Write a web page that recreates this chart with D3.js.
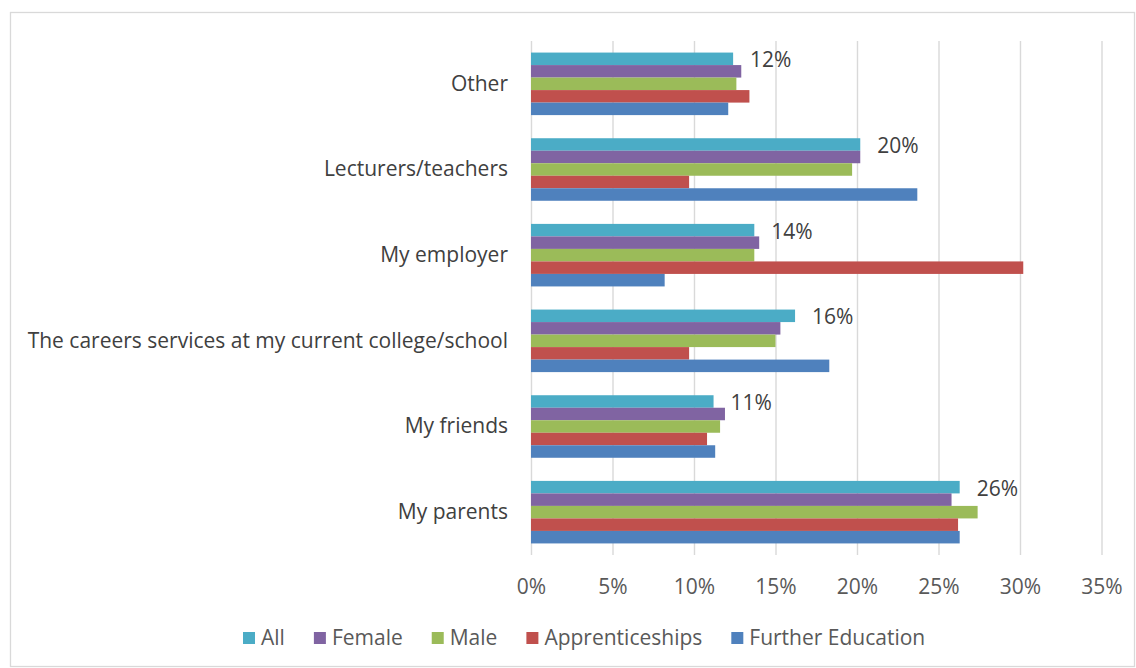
<!DOCTYPE html>
<html>
<head>
<meta charset="utf-8">
<script src="https://cdn.jsdelivr.net/npm/d3@7/dist/d3.min.js"></script>
<style>
  html, body { margin: 0; padding: 0; background: #fff; }
  svg { display: block; font-family: "Open Sans", "Noto Sans", sans-serif; }
</style>
</head>
<body>
<svg id="chart" width="1136" height="668"></svg>
<script>
// Sources of careers advice, share of respondents (%)
const categories = [
  "Other",
  "Lecturers/teachers",
  "My employer",
  "The careers services at my current college/school",
  "My friends",
  "My parents"
];
const seriesNames = ["All", "Female", "Male", "Apprenticeships", "Further Education"];
const seriesColors = ["#4BACC6", "#8064A2", "#9BBB59", "#C0504D", "#4F81BD"];

const allValues              = [12.4, 20.2, 13.7, 16.2, 11.2, 26.3];
const femaleValues           = [12.9, 20.2, 14.0, 15.3, 11.9, 25.8];
const maleValues             = [12.6, 19.7, 13.7, 15.0, 11.6, 27.4];
const apprenticeshipValues   = [13.4,  9.7, 30.2,  9.7, 10.8, 26.2];
const furtherEducationValues = [12.1, 23.7,  8.2, 18.3, 11.3, 26.3];

const xTicks = [0, 5, 10, 15, 20, 25, 30, 35];

const seriesValues = [allValues, femaleValues, maleValues, apprenticeshipValues, furtherEducationValues];
const series = seriesNames.map((name, i) => ({ name, color: seriesColors[i], values: seriesValues[i] }));

const svg = d3.select("#chart");
const W = 1136, H = 668;
const plot = { left: 531, right: 1101.5, top: 41, bottom: 555 };
const FONT = 21;

// outer chart frame
svg.append("rect")
  .attr("x", 10.5).attr("y", 12.5)
  .attr("width", W - 12).attr("height", H - 14)
  .attr("fill", "#fff").attr("stroke", "#D9D9D9").attr("stroke-width", 1.3);

const x = d3.scaleLinear().domain([0, 35]).range([plot.left, plot.right]);
const y = d3.scaleBand().domain(categories).range([plot.top, plot.bottom])
  .paddingInner(0.27).paddingOuter(0.135);
const ySub = d3.scaleBand().domain(seriesNames).range([0, y.bandwidth()]);

// vertical gridlines and percentage ticks
const xAxis = d3.axisBottom(x).tickValues(xTicks)
  .tickSize(-(plot.bottom - plot.top)).tickPadding(24)
  .tickFormat(d => d + "%");
const gx = svg.append("g").attr("transform", `translate(0,${plot.bottom})`).call(xAxis);
gx.select(".domain").remove();
gx.selectAll(".tick line").attr("stroke", "#D9D9D9").attr("stroke-width", 1.4);
gx.selectAll(".tick text").attr("fill", "#595959").attr("font-size", FONT)
  .attr("font-family", "'Open Sans', sans-serif");

// category labels
const yAxis = d3.axisLeft(y).tickSize(0).tickPadding(23);
const gy = svg.append("g").attr("transform", `translate(${plot.left},0)`).call(yAxis);
gy.select(".domain").remove();
gy.selectAll(".tick text").attr("fill", "#404040").attr("font-size", FONT)
  .attr("font-family", "'Open Sans', sans-serif");

// bars
const groups = svg.append("g").selectAll("g")
  .data(series).join("g").attr("fill", d => d.color);
groups.selectAll("rect")
  .data(s => s.values.map((v, i) => ({ name: s.name, cat: categories[i], v })))
  .join("rect")
  .attr("x", x(0))
  .attr("y", d => y(d.cat) + ySub(d.name))
  .attr("width", d => x(d.v) - x(0))
  .attr("height", ySub.bandwidth());

// value labels for the "All" series
svg.append("g").selectAll("text")
  .data(allValues.map((v, i) => ({ cat: categories[i], v })))
  .join("text")
  .attr("x", d => x(d.v) + 17)
  .attr("y", d => y(d.cat) + ySub("All") + ySub.bandwidth() / 2 + 1)
  .attr("dy", "0.35em")
  .attr("fill", "#404040").attr("font-size", FONT)
  .text(d => d3.format(".0f")(d.v) + "%");

// legend
const legend = svg.append("g").attr("transform", "translate(243,638)");
let lx = 0;
series.forEach(s => {
  const item = legend.append("g").attr("transform", `translate(${lx},0)`);
  item.append("rect").attr("x", 0).attr("y", -6).attr("width", 12).attr("height", 12).attr("fill", s.color);
  const t = item.append("text").attr("x", 18).attr("dy", "0.35em")
    .attr("fill", "#595959").attr("font-size", FONT).text(s.name);
  lx += 18 + t.node().getComputedTextLength() + 29;
});
</script>
</body>
</html>
